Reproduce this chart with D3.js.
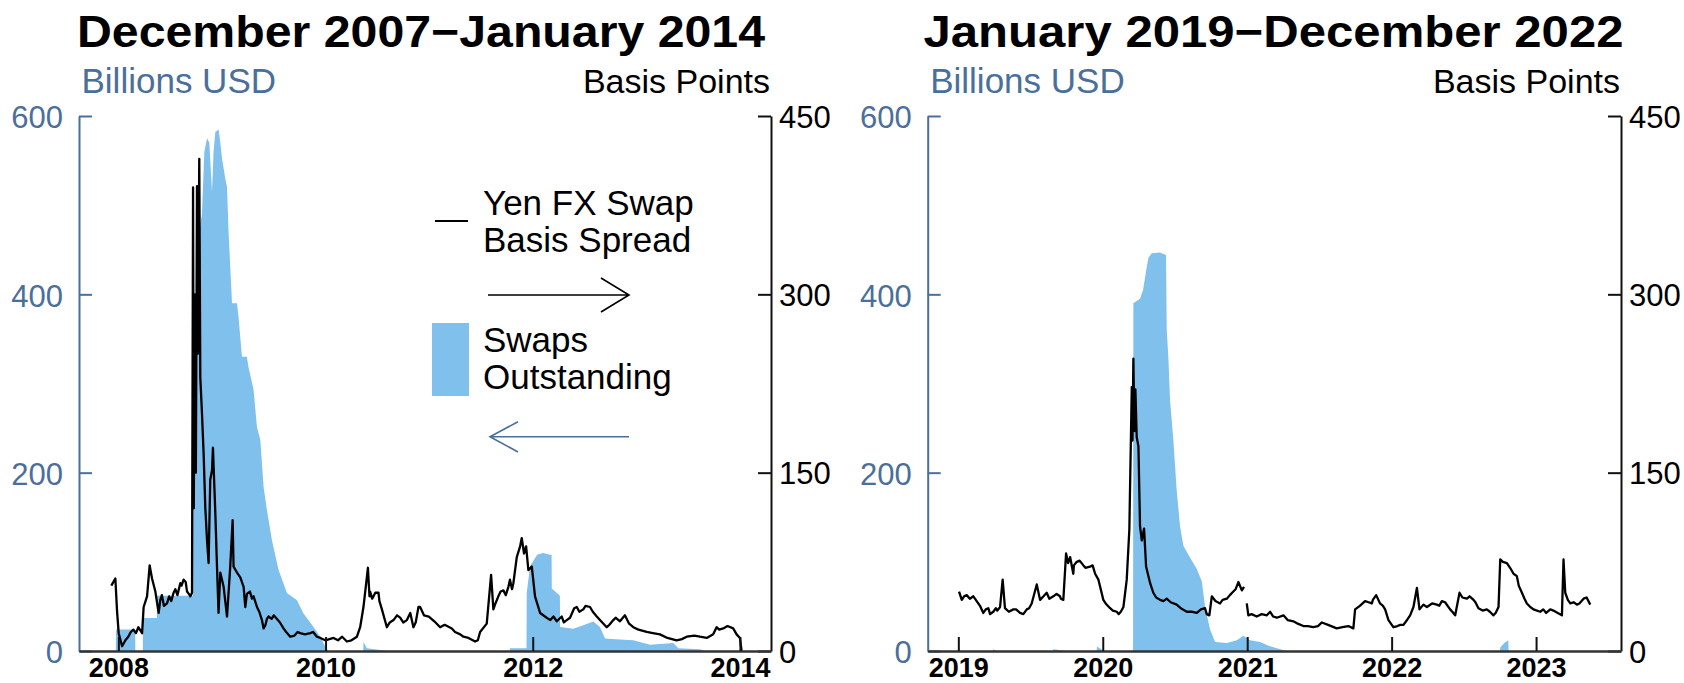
<!DOCTYPE html>
<html>
<head>
<meta charset="utf-8">
<script src="https://cdn.jsdelivr.net/npm/d3@7"></script>
<style>
  html, body { margin: 0; padding: 0; background: #fff; }
  svg { display: block; font-family: "Liberation Sans", Arial, Helvetica, sans-serif; }
</style>
</head>
<body>
<svg id="chart" width="1684" height="683"></svg>
<script>
// Dates are fractional years. Spread in basis points, swaps in billions USD.

// Yen FX swap basis spread, Dec 2007 - Jan 2014
const spreadGFC = [
  [2007.932,55],[2007.971,61],[2007.987,34],[2008.003,15],[2008.036,4],[2008.068,9],
  [2008.096,12],[2008.120,16],[2008.145,18],[2008.170,15],[2008.193,20],[2008.229,15],
  [2008.244,37],[2008.277,46],[2008.302,72],[2008.325,61],[2008.357,50],[2008.389,32],
  [2008.405,43],[2008.420,47],[2008.440,38],[2008.470,40],[2008.490,46],[2008.510,42],
  [2008.533,49],[2008.550,52],[2008.570,47],[2008.598,57],[2008.610,55],[2008.630,60],
  [2008.650,58],[2008.663,50],[2008.680,48],[2008.695,46],[2008.711,49],
  [2008.721,390],[2008.728,120],[2008.738,300],[2008.748,150],[2008.759,391],[2008.767,250],
  [2008.781,414],[2008.791,230],[2008.807,200],[2008.823,166],[2008.839,121],[2008.856,93],
  [2008.871,74],[2008.887,144],[2008.904,152],[2008.913,171],[2008.936,116],[2008.952,71],
  [2008.967,32],[2008.984,66],[2009.016,54],[2009.049,29],[2009.080,71],[2009.103,110],
  [2009.112,71],[2009.145,66],[2009.177,62],[2009.209,54],[2009.225,37],[2009.241,48],
  [2009.270,50],[2009.290,44],[2009.305,46],[2009.320,42],[2009.338,37],[2009.360,33],
  [2009.386,26],[2009.402,19],[2009.420,22],[2009.434,27],[2009.450,29],[2009.480,27],
  [2009.500,30],[2009.531,27],[2009.560,24],[2009.594,19],[2009.620,16],[2009.659,12],
  [2009.700,13],[2009.730,16],[2009.756,15],[2009.800,14],[2009.852,15],[2009.880,16],
  [2009.917,12],[2009.950,11],[2009.997,9],[2010.077,11],[2010.120,9],[2010.160,12],
  [2010.206,8],[2010.250,9],[2010.303,12],[2010.334,20],[2010.366,37],[2010.409,70],
  [2010.424,46],[2010.430,50],[2010.450,44],[2010.463,46],[2010.480,49],[2010.511,49],
  [2010.520,42],[2010.544,35],[2010.592,20],[2010.620,24],[2010.656,26],[2010.690,30],
  [2010.720,28],[2010.750,24],[2010.785,26],[2010.818,32],[2010.848,20],[2010.870,24],
  [2010.897,37],[2010.913,37],[2010.950,30],[2010.997,29],[2011.050,25],[2011.106,20],
  [2011.150,22],[2011.219,19],[2011.250,16],[2011.300,14],[2011.331,12],[2011.380,11],
  [2011.444,8],[2011.470,9],[2011.492,16],[2011.556,23],[2011.598,64],[2011.620,35],
  [2011.640,40],[2011.668,46],[2011.690,50],[2011.717,51],[2011.740,47],[2011.765,54],
  [2011.780,60],[2011.800,52],[2011.813,57],[2011.846,79],[2011.878,88],[2011.894,95],
  [2011.916,82],[2011.936,88],[2011.958,68],[2011.991,71],[2012.022,46],[2012.071,32],
  [2012.135,28],[2012.170,26],[2012.200,29],[2012.232,25],[2012.280,29],[2012.300,24],
  [2012.328,26],[2012.360,28],[2012.400,36],[2012.425,37],[2012.450,33],[2012.488,35],
  [2012.510,38],[2012.553,37],[2012.580,33],[2012.618,29],[2012.660,25],[2012.714,20],
  [2012.740,22],[2012.778,26],[2012.800,28],[2012.842,25],[2012.890,30],[2012.930,23],
  [2012.971,20],[2013.020,18],[2013.100,16],[2013.160,15],[2013.228,14],[2013.300,11],
  [2013.389,9],[2013.440,10],[2013.486,12],[2013.560,13],[2013.614,12],[2013.680,11],
  [2013.742,14],[2013.775,20],[2013.800,18],[2013.839,19],[2013.880,21],[2013.935,19],
  [2013.968,14],[2014.000,11],[2014.016,0]
];

// Swaps outstanding, Dec 2007 - Jan 2014 (outline of the filled area)
const swapsGFC = [
  [2007.975,0],[2007.978,24],[2008.162,24],[2008.164,0],[2008.236,0],[2008.238,37],
  [2008.371,37],[2008.373,62],[2008.719,62],[2008.721,150],[2008.743,300],[2008.762,420],
  [2008.781,470],[2008.807,490],[2008.830,560],[2008.856,575],[2008.878,570],[2008.904,515],
  [2008.919,560],[2008.936,582],[2008.968,585],[2008.984,570],[2009.000,553],[2009.032,530],
  [2009.049,520],[2009.064,469],[2009.097,390],[2009.145,390],[2009.160,375],[2009.193,330],
  [2009.240,330],[2009.257,318],[2009.305,293],[2009.338,251],[2009.370,237],[2009.402,184],
  [2009.434,158],[2009.483,124],[2009.546,91],[2009.627,65],[2009.724,57],[2009.787,42],
  [2009.884,27],[2009.949,16],[2009.997,5],[2010.026,0],[2010.364,0],[2010.366,10],
  [2010.399,3],[2010.604,0],[2011.779,0],[2011.781,3],[2011.940,3],[2011.942,65],
  [2011.974,95],[2012.022,104],[2012.042,108],[2012.100,110],[2012.167,108],[2012.182,108],
  [2012.184,70],[2012.232,65],[2012.262,62],[2012.264,27],[2012.392,25],[2012.488,29],
  [2012.585,33],[2012.649,27],[2012.698,14],[2012.842,13],[2012.971,12],[2013.132,7],
  [2013.357,9],[2013.405,3],[2013.614,2],[2013.662,0]
];

// Yen FX swap basis spread, Jan 2019 - May 2023 (null marks a gap in the series)
const spreadCovid = [
  [2019.005,50],[2019.024,43],[2019.040,46],[2019.058,47],[2019.080,44],[2019.104,46],
  [2019.127,42],[2019.150,38],[2019.173,32],[2019.190,35],[2019.208,36],[2019.220,31],
  [2019.242,33],[2019.260,36],[2019.270,34],[2019.289,37],[2019.307,60],[2019.323,36],
  [2019.350,33],[2019.381,35],[2019.400,35],[2019.427,32],[2019.450,31],[2019.474,35],
  [2019.490,36],[2019.508,40],[2019.543,56],[2019.566,43],[2019.590,46],[2019.612,49],
  [2019.630,44],[2019.658,46],[2019.680,48],[2019.704,46],[2019.710,44],[2019.727,43],
  [2019.746,82],[2019.760,74],[2019.774,79],[2019.796,65],[2019.800,72],[2019.820,75],
  [2019.840,76],[2019.866,72],[2019.880,70],[2019.912,71],[2019.930,72],[2019.947,65],
  [2019.970,60],[2020.004,43],[2020.020,40],[2020.051,36],[2020.070,34],[2020.097,33],
  [2020.110,31],[2020.125,33],[2020.143,37],[2020.166,60],[2020.184,102],[2020.201,222],
  [2020.206,177],[2020.212,246],[2020.219,185],[2020.226,220],[2020.235,180],[2020.247,172],
  [2020.258,105],[2020.270,93],[2020.286,103],[2020.300,71],[2020.328,57],[2020.350,49],
  [2020.370,45],[2020.397,43],[2020.420,42],[2020.443,44],[2020.470,41],[2020.512,39],
  [2020.540,36],[2020.582,33],[2020.620,33],[2020.651,32],[2020.680,35],[2020.708,36],
  [2020.720,31],[2020.738,30],[2020.755,46],[2020.780,42],[2020.812,40],[2020.830,43],
  [2020.859,44],[2020.880,47],[2020.904,50],[2020.920,52],[2020.939,58],[2020.963,51],
  [2020.978,54],[2020.988,null],[2020.997,40],[2021.008,30],[2021.030,31],[2021.066,29],
  [2021.100,31],[2021.136,30],[2021.159,33],[2021.180,29],[2021.205,28],[2021.251,30],
  [2021.280,26],[2021.320,25],[2021.350,23],[2021.389,21],[2021.420,21],[2021.458,20],
  [2021.490,21],[2021.517,24],[2021.560,22],[2021.620,19],[2021.660,20],[2021.700,21],
  [2021.735,19],[2021.747,35],[2021.780,38],[2021.816,42],[2021.840,41],[2021.863,40],
  [2021.870,43],[2021.893,47],[2021.920,40],[2021.940,38],[2021.955,35],[2021.978,26],
  [2022.012,20],[2022.040,21],[2022.060,22],[2022.082,22],[2022.100,25],[2022.128,30],
  [2022.151,37],[2022.175,53],[2022.193,35],[2022.220,39],[2022.244,37],[2022.280,40],
  [2022.313,39],[2022.330,38],[2022.348,42],[2022.370,41],[2022.405,35],[2022.420,33],
  [2022.440,30],[2022.470,49],[2022.490,45],[2022.521,44],[2022.540,46],[2022.567,43],
  [2022.580,41],[2022.601,36],[2022.630,34],[2022.659,35],[2022.680,33],[2022.705,30],
  [2022.720,32],[2022.740,37],[2022.752,77],[2022.770,75],[2022.798,74],[2022.820,70],
  [2022.844,65],[2022.867,63],[2022.880,55],[2022.902,49],[2022.920,44],[2022.936,40],
  [2022.960,37],[2022.982,35],[2023.029,33],[2023.050,35],[2023.070,32],[2023.098,35],
  [2023.120,34],[2023.150,32],[2023.179,30],[2023.190,77],[2023.202,49],[2023.220,43],
  [2023.237,40],[2023.260,41],[2023.283,39],[2023.300,40],[2023.329,44],[2023.350,45],
  [2023.375,39]
];

// Swaps outstanding, Jan 2019 - May 2023 (outline of the filled area)
const swapsCovid = [
  [2019.238,0],[2019.240,2],[2019.270,0],[2019.654,0],[2019.656,2],[2019.753,0],
  [2019.958,0],[2019.960,5],[2020.009,0],[2020.210,0],[2020.212,390],[2020.258,395],
  [2020.279,405],[2020.305,431],[2020.316,441],[2020.339,446],[2020.397,447],[2020.438,444],
  [2020.443,360],[2020.454,330],[2020.466,281],[2020.489,236],[2020.512,180],[2020.535,140],
  [2020.558,118],[2020.593,108],[2020.651,92],[2020.686,78],[2020.708,50],[2020.743,24],
  [2020.778,10],[2020.859,9],[2020.928,12],[2020.974,17],[2021.020,12],[2021.089,10],
  [2021.147,6],[2021.205,3],[2021.274,0],[2022.750,0],[2022.752,4],[2022.780,9],
  [2022.808,12],[2022.810,0]
];

const yearTicksGFC = [2008, 2010, 2012, 2014];
const yearTicksCovid = [2019, 2020, 2021, 2022, 2023];
const billionsTicks = [0, 200, 400, 600];
const basisTicks = [0, 150, 300, 450];
const panelTitles = ["December 2007\u2212January 2014", "January 2019\u2212December 2022"];
const leftUnit = "Billions USD";
const rightUnit = "Basis Points";
const legendSpread = ["Yen FX Swap", "Basis Spread"];
const legendSwaps = ["Swaps", "Outstanding"];

const BLUE_FILL = "#7fc0ec";
const AXIS_BLUE = "#4b6f9b";
const INK = "#111";
const TOP = 116, BOTTOM = 651;

const svg = d3.select("#chart");

const panels = [
  { left: 79, right: 771, domain: [2007.62, 2014.30], years: yearTicksGFC,
    spread: spreadGFC, swaps: swapsGFC, title: panelTitles[0], titleX: 77, titleLen: 688, legend: true },
  { left: 927.7, right: 1621, domain: [2018.788, 2023.588], years: yearTicksCovid,
    spread: spreadCovid, swaps: swapsCovid, title: panelTitles[1], titleX: 923.5, titleLen: 700, legend: false }
];

panels.forEach(p => {
  const g = svg.append("g");
  const x = d3.scaleLinear().domain(p.domain).range([p.left, p.right]);
  const yL = d3.scaleLinear().domain([0, 600]).range([BOTTOM, TOP]);
  const yR = d3.scaleLinear().domain([0, 450]).range([BOTTOM, TOP]);

  // swaps outstanding (filled area)
  const area = d3.area()
    .x(d => x(d[0]))
    .y0(yL(0))
    .y1(d => yL(d[1]));
  g.append("path").datum(p.swaps).attr("d", area).attr("fill", BLUE_FILL);

  // basis spread line
  const line = d3.line()
    .defined(d => d[1] != null)
    .x(d => x(d[0]))
    .y(d => yR(d[1]));
  g.append("path").datum(p.spread).attr("d", line)
    .attr("fill", "none").attr("stroke", "#000")
    .attr("stroke-width", 2.3).attr("stroke-linejoin", "round");

  // left axis (billions)
  const axL = g.append("g").attr("transform", `translate(${p.left},0)`)
    .call(d3.axisLeft(yL).tickValues(billionsTicks).tickSize(-13).tickSizeOuter(0).tickPadding(16));
  axL.select(".domain").attr("stroke", AXIS_BLUE).attr("stroke-width", 2);
  axL.selectAll(".tick line").attr("stroke", AXIS_BLUE).attr("stroke-width", 2);
  axL.selectAll(".tick text").attr("fill", AXIS_BLUE).attr("font-size", 31)
    .attr("font-family", null).attr("dy", "0.38em");

  // right axis (basis points)
  const axR = g.append("g").attr("transform", `translate(${p.right},0)`)
    .call(d3.axisRight(yR).tickValues(basisTicks).tickSize(-13).tickSizeOuter(0).tickPadding(8));
  axR.select(".domain").attr("stroke", INK).attr("stroke-width", 2);
  axR.selectAll(".tick line").attr("stroke", INK).attr("stroke-width", 2);
  axR.selectAll(".tick text").attr("fill", "#000").attr("font-size", 31)
    .attr("font-family", null).attr("dy", "0.36em");

  // time axis
  const axX = g.append("g").attr("transform", `translate(0,${BOTTOM})`)
    .call(d3.axisBottom(x).tickValues(p.years).tickFormat(d3.format("d"))
      .tickSize(-14).tickSizeOuter(0).tickPadding(7));
  axX.select(".domain").attr("stroke", "#333").attr("stroke-width", 2.5);
  axX.selectAll(".tick line").attr("stroke", INK).attr("stroke-width", 2);
  axX.selectAll(".tick text").attr("fill", "#000").attr("font-size", 27)
    .attr("font-weight", "bold").attr("font-family", null);

  // titles and units
  g.append("text").attr("x", p.titleX).attr("y", 46.5)
    .attr("font-size", 44).attr("font-weight", "bold").attr("fill", "#000")
    .attr("textLength", p.titleLen).attr("lengthAdjust", "spacingAndGlyphs")
    .text(p.title);
  g.append("text").attr("x", p.left + 2.5).attr("y", 93.3)
    .attr("font-size", 35).attr("fill", AXIS_BLUE).text(leftUnit);
  g.append("text").attr("x", p.right - 1).attr("y", 93.3)
    .attr("text-anchor", "end").attr("font-size", 34).attr("fill", "#000").text(rightUnit);

  if (p.legend) {
    const lg = g.append("g").attr("font-size", 35).attr("fill", "#000");
    lg.append("line").attr("x1", 435).attr("x2", 468).attr("y1", 221).attr("y2", 221)
      .attr("stroke", "#000").attr("stroke-width", 2);
    lg.append("text").attr("x", 483).attr("y", 215).text(legendSpread[0]);
    lg.append("text").attr("x", 483).attr("y", 251.7).text(legendSpread[1]);
    lg.append("path").attr("d", "M488,295H629M601,278L629,295L601,312")
      .attr("fill", "none").attr("stroke", "#000").attr("stroke-width", 1.6);
    lg.append("rect").attr("x", 432).attr("y", 323).attr("width", 37).attr("height", 73)
      .attr("fill", BLUE_FILL);
    lg.append("text").attr("x", 483).attr("y", 351.7).text(legendSwaps[0]);
    lg.append("text").attr("x", 483).attr("y", 389.3).text(legendSwaps[1]);
    lg.append("path").attr("d", "M629,436.7H490M518,421.7L490,436.7L518,452")
      .attr("fill", "none").attr("stroke", AXIS_BLUE).attr("stroke-width", 1.6);
  }
});
</script>
</body>
</html>
